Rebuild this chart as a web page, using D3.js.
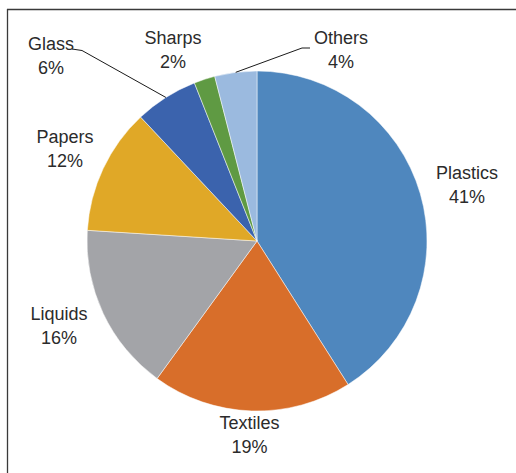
<!DOCTYPE html>
<html>
<head>
<meta charset="utf-8">
<script src="https://cdn.jsdelivr.net/npm/d3@7"></script>
<style>
  body { margin: 0; background: #fff; }
  svg { display: block; }
</style>
</head>
<body>
<div id="chart"></div>
<script>
// waste composition
var categories = ['Plastics', 'Textiles', 'Liquids', 'Papers', 'Glass', 'Sharps', 'Others'];
var shares = [41, 19, 16, 12, 6, 2, 4];
var colours = ['#4f87be', '#d86e2a', '#a3a4a8', '#e0a827', '#3b63ad', '#5f9a43', '#9bbadf'];

function PiePlotter() {
  this._width = 516;
  this._height = 473;
  this._cx = 257;
  this._cy = 241;
  this._radius = 170;
  this._font_size = '18px';
  this._line_gap = 24;
  // label anchor (centre x, first baseline) per category
  this._label_pos = {
    'Plastics': [467, 179],
    'Textiles': [249.5, 429],
    'Liquids': [59, 320],
    'Papers': [65, 143],
    'Glass': [51, 50],
    'Sharps': [173, 44],
    'Others': [341, 44]
  };
  // leader lines: label end point and elbow
  this._leaders = {
    'Glass': [[72, 49], [82, 50.5]],
    'Others': [[310, 48], [302, 48]]
  };
}

PiePlotter.prototype.plot = function(container) {
  let self = this;
  let svg = d3.select(container).append('svg:svg')
    .attr('width', this._width)
    .attr('height', this._height);

  // frame (only top and left edges visible)
  svg.append('line').attr('x1', 7).attr('y1', 9.5).attr('x2', this._width).attr('y2', 9.5)
    .attr('stroke', '#3a3a3a').attr('stroke-width', 1.3);
  svg.append('line').attr('x1', 7.5).attr('y1', 9).attr('x2', 7.5).attr('y2', this._height)
    .attr('stroke', '#3a3a3a').attr('stroke-width', 1.3);

  let pie = d3.pie().sort(null).value(d => d.v);
  let data = categories.map((c, i) => ({ name: c, v: shares[i], col: colours[i] }));
  let arcs = pie(data);
  let arc = d3.arc().innerRadius(0).outerRadius(this._radius);

  let g = svg.append('g').attr('transform', 'translate(' + this._cx + ',' + this._cy + ')');
  g.selectAll('path')
    .data(arcs)
    .join('path')
    .attr('d', arc)
    .attr('fill', d => d.data.col)
    .attr('stroke', '#ffffff')
    .attr('stroke-width', 0.5);

  // leader lines to the outer edge of the slice
  arcs.forEach(function(a) {
    let pts = self._leaders[a.data.name];
    if (!pts) return;
    let mid = (a.startAngle + a.endAngle) / 2;
    let ex = self._cx + self._radius * Math.sin(mid);
    let ey = self._cy - self._radius * Math.cos(mid);
    svg.append('polyline')
      .attr('points', pts.map(p => p.join(',')).concat([ex + ',' + ey]).join(' '))
      .attr('fill', 'none')
      .attr('stroke', '#1a1a1a')
      .attr('stroke-width', 1);
  });

  let labels = svg.selectAll('text.lbl')
    .data(arcs)
    .join('text')
    .attr('class', 'lbl')
    .attr('text-anchor', 'middle')
    .attr('font-family', '"Liberation Sans", Arial, sans-serif')
    .attr('font-size', this._font_size)
    .attr('fill', '#2b2b2b');
  labels.append('tspan')
    .attr('x', d => self._label_pos[d.data.name][0])
    .attr('y', d => self._label_pos[d.data.name][1])
    .text(d => d.data.name);
  labels.append('tspan')
    .attr('x', d => self._label_pos[d.data.name][0])
    .attr('y', d => self._label_pos[d.data.name][1] + self._line_gap)
    .text(d => d3.format('.0f')(d.data.v) + '%');
}

new PiePlotter().plot('#chart');
</script>
</body>
</html>
